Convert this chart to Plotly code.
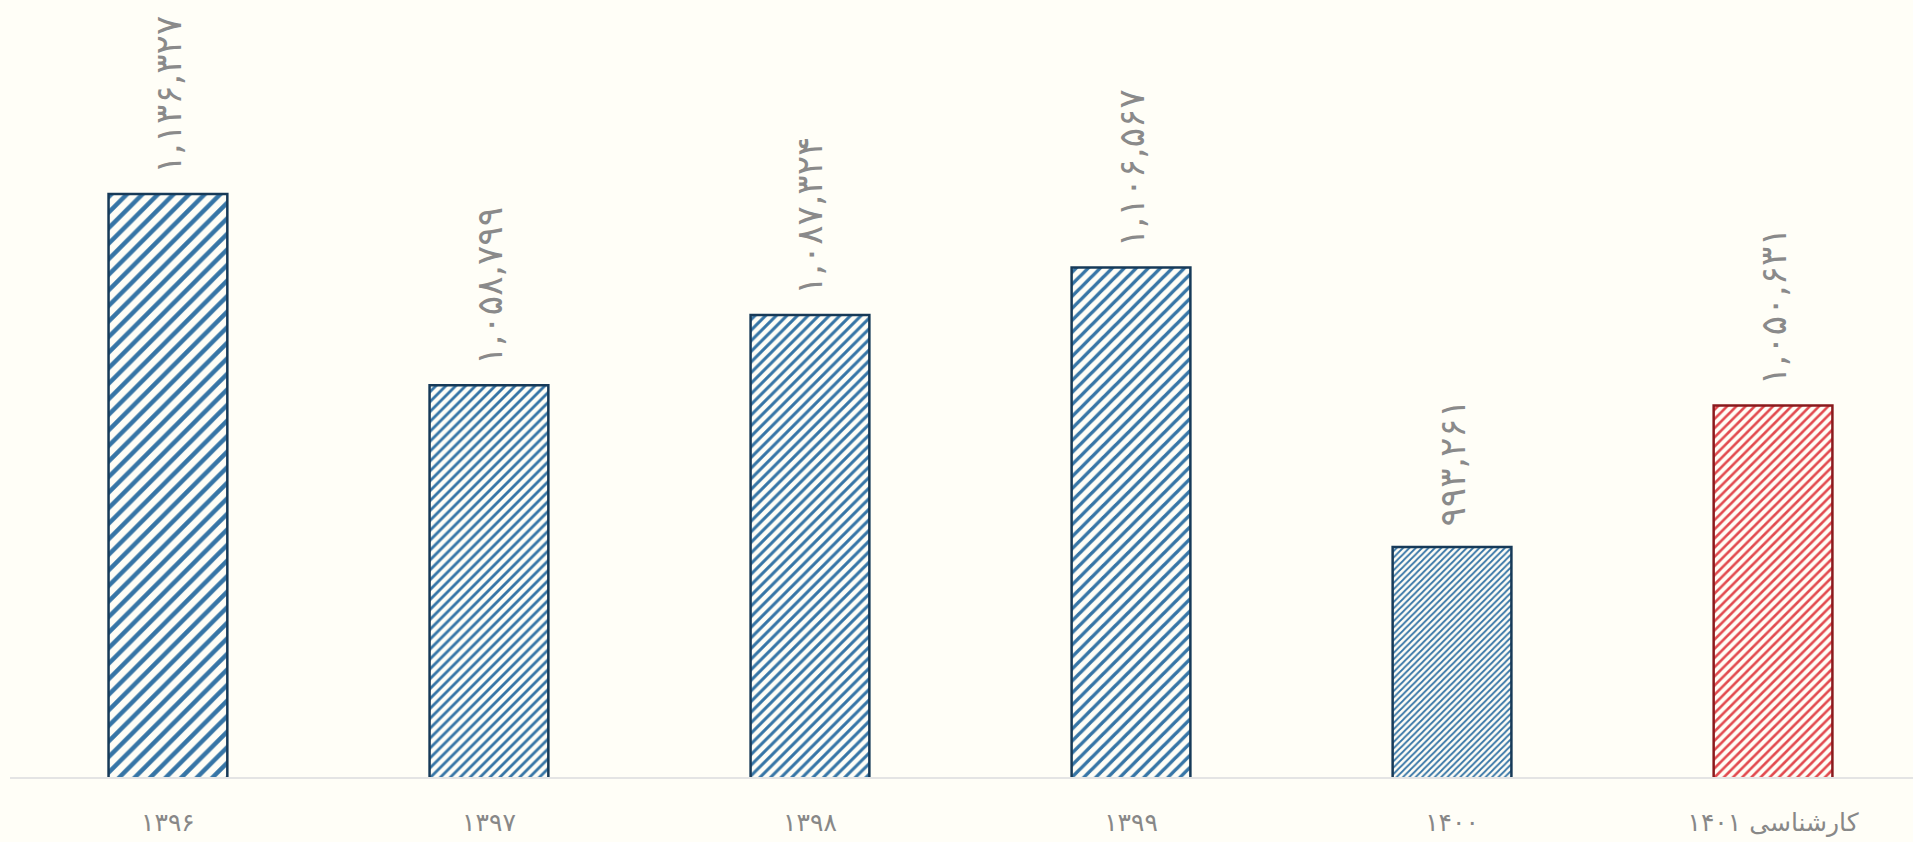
import plotly.graph_objects as go

categories = ["۱۳۹۶", "۱۳۹۷", "۱۳۹۸", "۱۳۹۹", "۱۴۰۰", "کارشناسی ۱۴۰۱"]
values = [1136327, 1058799, 1087324, 1106567, 993261, 1050631]
fill_colors = ["#3675a6", "#3675a6", "#3675a6", "#3675a6", "#3675a6", "#e24a4f"]
line_colors = ["#173a58", "#173a58", "#173a58", "#173a58", "#173a58", "#8a1a1d"]
hatch_sizes = [11, 7, 7.5, 8.5, 4.5, 6.5]

fa_digits = str.maketrans("0123456789", "۰۱۲۳۴۵۶۷۸۹")
labels = [f"{v:,}".translate(fa_digits) for v in values]

BG = "#fffef7"

fig = go.Figure(
    go.Bar(
        x=categories,
        y=values,
        width=0.37,
        marker=dict(
            color=BG,
            line=dict(color=line_colors, width=2.5),
            pattern=dict(
                shape="/",
                fgcolor=fill_colors,
                fgopacity=1,
                bgcolor=BG,
                size=hatch_sizes,
                solidity=0.4,
                fillmode="overlay",
            ),
        ),
        hoverinfo="skip",
    )
)

for c, v, t in zip(categories, values, labels):
    fig.add_annotation(
        x=c, y=v, text=t, showarrow=False, textangle=-90,
        xanchor="center", yanchor="bottom", yshift=18,
        font=dict(family="DejaVu Sans", size=36, color="#8a8a8a"),
    )

fig.update_layout(
    width=1913,
    height=842,
    paper_bgcolor=BG,
    plot_bgcolor=BG,
    margin=dict(l=10, r=0, t=0, b=65),
    showlegend=False,
    xaxis=dict(
        type="category",
        range=[-0.492, 5.436],
        showgrid=False,
        zeroline=False,
        showline=True,
        linecolor="#e4e4e4",
        linewidth=2,
        ticks="outside",
        ticklen=22,
        tickcolor="rgba(0,0,0,0)",
        tickfont=dict(family="DejaVu Sans", size=25, color="#888888"),
    ),
    yaxis=dict(
        range=[900000, 1215000],
        visible=False,
        showgrid=False,
        zeroline=False,
    ),
)

fig.write_html(
    "out.html",
    config={"displayModeBar": False},
    post_script="document.body.style.margin='0';document.body.style.background='%s';" % BG,
)
